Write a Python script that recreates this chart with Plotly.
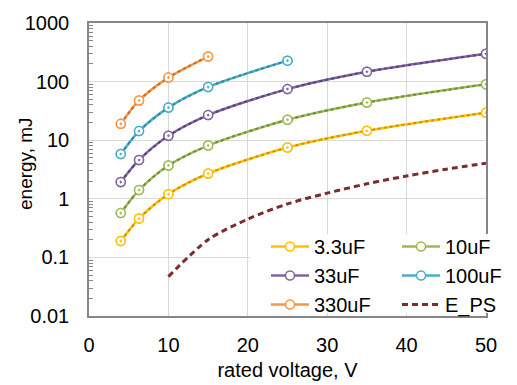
import plotly.graph_objects as go

# rated voltages of the parts in each capacitance family
volts_all = [4, 6.3, 10, 15, 25, 35, 50]
volts_100u = [4, 6.3, 10, 15, 25]
volts_330u = [4, 6.3, 10, 15]

# stored energy per family, mJ
e_3u3 = [0.19, 0.46, 1.2, 2.7, 7.5, 14.5, 29.5]
e_10u = [0.57, 1.41, 3.7, 8.1, 22.3, 44, 90]
e_33u = [1.93, 4.6, 11.9, 26.8, 74.5, 147, 298]
e_100u = [5.8, 14.3, 36, 81, 228]
e_330u = [19, 47.6, 117, 268]

# power-supply hold-up energy requirement, mJ
volts_ps = [10, 15, 20, 25, 30, 35, 40, 45, 50]
e_ps = [0.047, 0.2, 0.45, 0.82, 1.25, 1.8, 2.45, 3.2, 4.05]

y_tickvals = [0.01, 0.1, 1, 10, 100, 1000]
y_ticktext = ["0.01", "0.1", "1", "10", "100", "1000"]
x_tickvals = [0, 10, 20, 30, 40, 50]

# name, x, y, colour, darker colour for the fitted curve, legend column
series = [
    ("3.3uF", volts_all, e_3u3, "#FFC000", "#C99400", "legend"),
    ("10uF", volts_all, e_10u, "#9BBB59", "#6E8E35", "legend2"),
    ("33uF", volts_all, e_33u, "#8064A2", "#5B3F80", "legend"),
    ("100uF", volts_100u, e_100u, "#4BACC6", "#2F8AA3", "legend2"),
    ("330uF", volts_330u, e_330u, "#F79646", "#CC6A1E", "legend"),
]

FONT = "Liberation Sans, Arial, sans-serif"
L, R, T, B = 89, 31, 23, 69
W, H = 517, 385
PW, PH = W - L - R, H - T - B


def px_x(p):
    return (p - L) / PW


def px_y(p):
    return (H - B - p) / PH


fig = go.Figure()

for name, xs, ys, col, dark, leg in series:
    # smoothed solid line with open markers (carries the legend entry)
    fig.add_trace(go.Scatter(
        x=xs, y=ys, name=name, mode="lines+markers", legend=leg,
        line=dict(color=col, width=2.5, shape="spline", smoothing=0.8),
        marker=dict(symbol="circle", size=9, color="white",
                    line=dict(color=col, width=1.5)),
    ))
    # dotted fitted curve on top of the solid line
    fig.add_trace(go.Scatter(
        x=xs, y=ys, mode="lines", showlegend=False, hoverinfo="skip",
        line=dict(color=dark, width=2, dash="dot", shape="spline", smoothing=0.8),
    ))
    # markers redrawn above the dotted curve, with centre dot
    fig.add_trace(go.Scatter(
        x=xs, y=ys, mode="markers", showlegend=False,
        marker=dict(symbol="circle-dot", size=9, color="white",
                    line=dict(color=col, width=1.5)),
    ))

fig.add_trace(go.Scatter(
    x=volts_ps, y=e_ps, name="E_PS", mode="lines", legend="legend2",
    line=dict(color="#7B2C2C", width=3, dash="6px,4px", shape="spline", smoothing=0.8),
))

leg_common = dict(
    orientation="v", yanchor="top", xanchor="left", bgcolor="rgba(0,0,0,0)",
    borderwidth=0, itemwidth=38, tracegroupgap=0,
    font=dict(family=FONT, size=20, color="black"),
)

fig.update_layout(
    width=W, height=H,
    margin=dict(l=L, r=R, t=T, b=B, autoexpand=False),
    paper_bgcolor="white", plot_bgcolor="white",
    font=dict(family=FONT, size=20, color="black"),
    showlegend=True,
    legend=dict(x=px_x(266), y=px_y(227), **leg_common),
    legend2=dict(x=px_x(397), y=px_y(227), **leg_common),
    # white panel behind the legend entries
    shapes=[dict(
        type="rect", xref="paper", yref="paper", layer="above",
        x0=px_x(250), x1=px_x(503), y0=px_y(313), y1=px_y(234),
        fillcolor="white", line=dict(width=0),
    )],
    xaxis=dict(
        range=[0, 50], tickvals=x_tickvals, showgrid=True, gridcolor="#D9D9D9",
        gridwidth=1, showline=True, linecolor="#868686", linewidth=1.5,
        mirror=True, ticks="", zeroline=False, ticklabelstandoff=10,
        title=dict(text="rated voltage, V", standoff=8,
                   font=dict(family=FONT, size=20)),
    ),
    yaxis=dict(
        type="log", range=[-2, 3], tickvals=y_tickvals, ticktext=y_ticktext,
        showgrid=True, gridcolor="#D9D9D9", gridwidth=1,
        showline=True, linecolor="#868686", linewidth=1.5, mirror=True,
        ticks="", zeroline=False, ticklabelstandoff=14,
        minor=dict(ticks="inside", ticklen=4, tickcolor="#868686",
                   tickvals=[m * 10 ** p for p in range(-2, 3) for m in range(2, 10)],
                   showgrid=False),
    ),
    annotations=[dict(
        text="energy, mJ", textangle=-90, xref="paper", yref="paper",
        x=px_x(25), y=px_y(164), xanchor="center", yanchor="middle",
        showarrow=False, font=dict(family="Liberation Sans Narrow, Arial Narrow, sans-serif",
                                   size=19, color="black"),
    )],
)

fig.write_html("out.html")
